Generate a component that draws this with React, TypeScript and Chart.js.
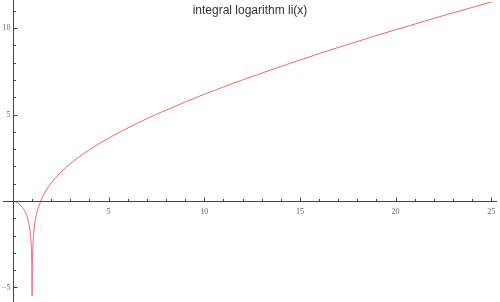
import React, { useEffect, useRef } from "react";
import { Chart, registerables } from "chart.js";

Chart.register(...registerables);

const TITLE = "integral logarithm li(x)";
const xValues = [0, 0.1, 0.2, 0.3, 0.4, 0.5, 0.6, 0.7, 0.8, 0.9, 0.95, 0.98, 0.99, 0.995, 1.0, 1.005, 1.01, 1.02, 1.05, 1.1, 1.2, 1.3, 1.4, 1.45, 1.5, 1.75, 2, 2.5, 3, 4, 5, 6, 7, 8, 9, 10, 12, 15, 17.5, 20, 22.5, 25];
const yValues = [0, -0.03, -0.09, -0.16, -0.25, -0.38, -0.55, -0.78, -1.13, -1.78, -2.44, -3.35, -4.03, -4.72, -5.5, -4.72, -4.02, -3.32, -2.39, -1.68, -0.93, -0.48, -0.15, 0.0, 0.12, 0.64, 1.04, 1.66, 2.16, 2.97, 3.63, 4.22, 4.76, 5.25, 5.72, 6.17, 7.0, 8.15, 9.05, 9.9, 10.72, 11.5];
const xMajorTicks = [5, 10, 15, 20, 25];
const yMajorTicks = [-5, 5, 10];

const X_MIN = -0.52, X_MAX = 25.3;
const Y_MIN = -5.84, Y_MAX = 11.62;

const axesPlugin = {
  id: "mmaAxes",
  afterDraw(chart: any) {
    const ctx = chart.ctx;
    const xs = chart.scales.x;
    const ys = chart.scales.y;
    const x0 = Math.round(xs.getPixelForValue(0)) + 0.5;
    const y0 = Math.round(ys.getPixelForValue(0)) + 0.5;
    ctx.save();
    ctx.strokeStyle = "#444";
    ctx.lineWidth = 1;
    ctx.beginPath();
    ctx.moveTo(xs.left, y0);
    ctx.lineTo(xs.right, y0);
    ctx.moveTo(x0, ys.top);
    ctx.lineTo(x0, ys.bottom);
    for (let v = Math.ceil(X_MIN); v <= X_MAX; v++) {
      if (v === 0) continue;
      const px = Math.round(xs.getPixelForValue(v)) + 0.5;
      const len = v % 5 === 0 ? 4 : 2.5;
      ctx.moveTo(px, y0);
      ctx.lineTo(px, y0 - len);
    }
    for (let v = Math.ceil(Y_MIN); v <= Y_MAX; v++) {
      if (v === 0) continue;
      const py = Math.round(ys.getPixelForValue(v)) + 0.5;
      const len = v % 5 === 0 ? 4 : 2.5;
      ctx.moveTo(x0, py);
      ctx.lineTo(x0 + len, py);
    }
    ctx.stroke();
    ctx.fillStyle = "#666";
    ctx.font = "8px 'Liberation Serif', serif";
    ctx.textAlign = "center";
    ctx.textBaseline = "top";
    xMajorTicks.forEach((v) => {
      ctx.fillText(String(v), xs.getPixelForValue(v), y0 + 6);
    });
    ctx.textAlign = "right";
    ctx.textBaseline = "middle";
    yMajorTicks.forEach((v) => {
      const label = v < 0 ? "\u2212" + Math.abs(v) : String(v);
      ctx.fillText(label, x0 - 3, ys.getPixelForValue(v));
    });
    ctx.fillStyle = "#333";
    ctx.font = "12px 'Liberation Sans', Arial, sans-serif";
    ctx.textAlign = "center";
    ctx.textBaseline = "middle";
    ctx.fillText(TITLE, 250, 11);
    ctx.restore();
  },
};

export default function App() {
  const ref = useRef<HTMLCanvasElement>(null);
  useEffect(() => {
    document.body.style.margin = "0";
    const data = xValues.map((x, i) => ({ x, y: yValues[i] }));
    const chart = new Chart(ref.current!, {
      type: "scatter",
      data: {
        datasets: [
          {
            data,
            showLine: true,
            borderColor: "#f06474",
            borderWidth: 1,
            pointRadius: 0,
            cubicInterpolationMode: "monotone",
          } as any,
        ],
      },
      options: {
        animation: false,
        responsive: false,
        maintainAspectRatio: false,
        layout: { padding: { left: 3, right: 3, top: 0, bottom: 0 } },
        plugins: { legend: { display: false }, tooltip: { enabled: false }, title: { display: false } },
        scales: {
          x: { type: "linear", min: X_MIN, max: X_MAX, display: false },
          y: { type: "linear", min: Y_MIN, max: Y_MAX, display: false },
        },
      },
      plugins: [axesPlugin],
    });
    return () => chart.destroy();
  }, []);
  return (
    <div style={{ width: 500, height: 302, background: "#fff" }}>
      <canvas ref={ref} width={500} height={302} />
    </div>
  );
}
